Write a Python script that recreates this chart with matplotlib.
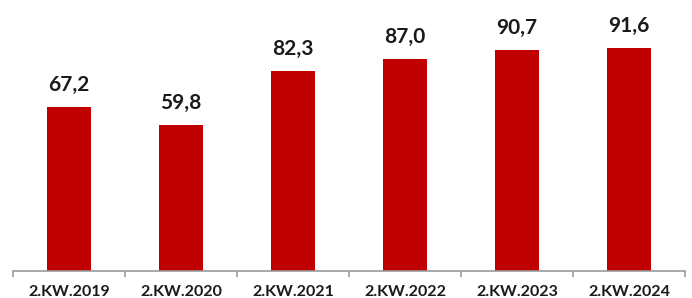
import matplotlib
matplotlib.use("Agg")
import matplotlib.pyplot as plt
import matplotlib.transforms as mtransforms
import numpy as np

categories = ["2.KW.2019", "2.KW.2020", "2.KW.2021", "2.KW.2022", "2.KW.2023", "2.KW.2024"]
values = [67.2, 59.8, 82.3, 87.0, 90.7, 91.6]
value_labels = ["67,2", "59,8", "82,3", "87,0", "90,7", "91,6"]

plt.rcParams['font.family'] = ['Lato', 'DejaVu Sans']

fig = plt.figure(figsize=(6.92, 2.98), dpi=100)
ax = fig.add_axes([13/692, 27/298, 672/692, (271-27.5)/298])

x = np.arange(len(categories))
ax.bar(x, values, width=0.39, color="#C00000")
for xi, v, lab in zip(x, values, value_labels):
    ax.annotate(lab, (xi, v), xytext=(0, 11.5), textcoords="offset points",
                ha="center", va="baseline", fontsize=15, fontweight="bold", color="#1a1a1a")

ax.set_xlim(-0.5, len(categories) - 0.5)
ax.set_ylim(0, 100)
for s in ["top", "right", "left"]:
    ax.spines[s].set_visible(False)
ax.spines["bottom"].set_color("#999999")
ax.spines["bottom"].set_linewidth(1.2)
ax.set_yticks([])
ax.set_xticks(np.arange(-0.5, len(categories), 1.0))
ax.set_xticklabels([])
ax.tick_params(axis="x", length=4, width=1.2, color="#999999")

trans = mtransforms.blended_transform_factory(ax.transData, fig.transFigure)
for xi, cat in zip(x, categories):
    ax.text(xi, 2.5/298, cat, transform=trans, ha="center", va="baseline",
            fontsize=11.5, fontweight="bold", color="#1a1a1a", clip_on=False)

fig.savefig("out.png", dpi=100)
